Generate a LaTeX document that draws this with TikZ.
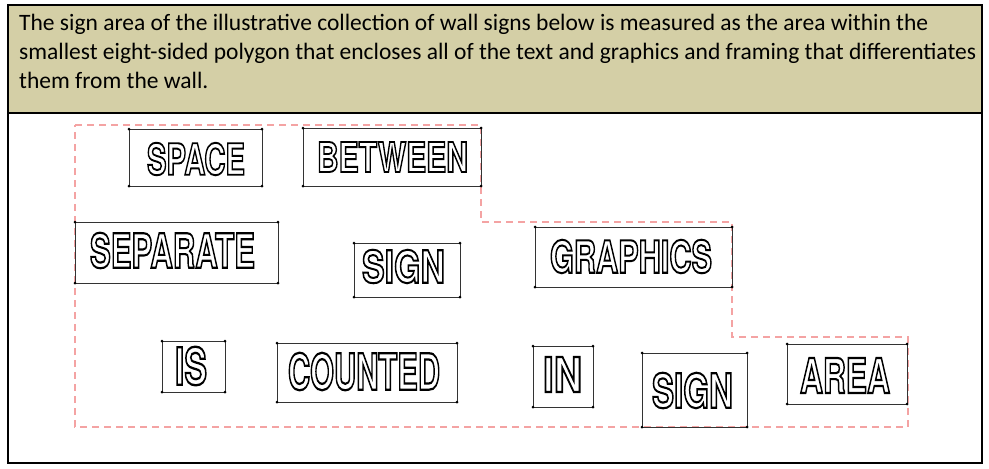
\documentclass[tikz,border=0pt]{standalone}
\usepackage{fontspec}
\setmainfont{Carlito}
\newfontfamily\signfont{TeX Gyre Heros}
\definecolor{headfill}{HTML}{D4CFA6}
\definecolor{polyred}{HTML}{F4A3A3}
\newcommand{\outlined}[1]{\special{pdf:code 1 Tr 0.45 w}#1\special{pdf:code 0 Tr}}
\begin{document}
\begin{tikzpicture}[x=1pt,y=-1pt,
  frame/.style={draw=black,line width=2pt},
  signbox/.style={draw=black!80,line width=0.8pt},
  signtext/.style={inner sep=0pt,anchor=center},
  headtext/.style={anchor=base west,inner sep=0pt,font=\fontsize{23.5}{28}\selectfont},
  polyline/.style={draw=polyred,line width=2pt,dash pattern=on 7pt off 5pt}]
\useasboundingbox (0,0) rectangle (989,469);
% header and body frames
\path[fill=headfill] (8,5) rectangle (982,113);
\draw[frame] (8,5) rectangle (982,463);
\draw[frame] (8,113) -- (982,113);
\node[headtext] (l1) at (19,30) {The sign area of the illustrative collection of wall signs below is measured as the area within the};
\node[headtext] (l2) at (19,59) {smallest eight-sided polygon that encloses all of the text and graphics and framing that differentiates};
\node[headtext] (l3) at (19,88) {them from the wall.};
% dashed polygon
\draw[polyline] (75,125) -- (481,125) -- (481,222) -- (732,222) -- (732,337) -- (908,337) -- (908,427) -- (75,427) -- cycle;
% signs
\newcommand{\sign}[9]{%
  \draw[signbox] (#2,#3) rectangle (#4,#5);
  \foreach \cx/\cy in {#2/#3,#4/#3,#2/#5,#4/#5} \fill (\cx,\cy) circle (1.5pt);
  \node[signtext] (#1) at ({(#6+#8)/2},{(#7+#9)/2}) {\resizebox{\dimexpr #8pt-#6pt\relax}{\dimexpr #9pt-#7pt\relax}{\signfont\bfseries\outlined{\MakeUppercase{#1}}}};
}
\sign{space}{129}{129}{262}{186}{147}{143}{245}{175}
\sign{between}{303}{128}{481}{186}{317}{142}{468}{172}
\sign{separate}{75}{222}{278}{283}{90}{233}{255}{268}
\sign{sign}{354}{243}{460}{297}{362}{250}{445}{283}
\sign{graphics}{535}{227}{732}{287}{550}{240}{712}{273}
\sign{is}{162}{341}{225}{392}{175}{347}{207}{385}
\sign{counted}{277}{343}{457}{402}{288}{353}{440}{390}
\sign{in}{533}{346}{593}{407}{543}{357}{582}{392}
\sign{area}{787}{344}{907}{404}{800}{358}{890}{393}
\draw[signbox] (642,353) rectangle (747,427);
\foreach \cx/\cy in {642/353,747/353,642/427,747/427} \fill (\cx,\cy) circle (1.5pt);
\node[signtext] (sign2) at (692.5,390.5) {\resizebox{81pt}{35pt}{\signfont\bfseries\outlined{SIGN}}};
\end{tikzpicture}
\end{document}
